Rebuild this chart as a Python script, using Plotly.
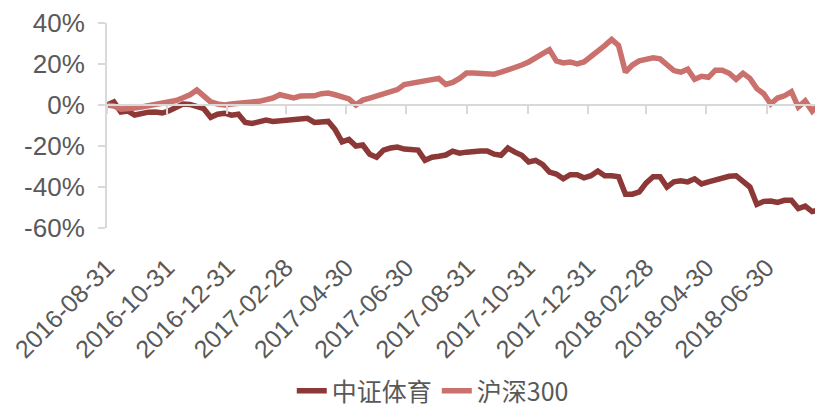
import pandas as pd
import plotly.graph_objects as go

# weekly sampled dates (every 7 days from 2016-08-31)
dates = pd.date_range(start="2016-08-31", periods=104, freq="7D")

# 中证体育 cumulative return (%)
sports = [
    0, 1.5, -3.4, -2.9, -4.9, -3.9, -3.5, -3.4, -3.9, -2.8,
    -1.5, 0.5, 0.3, -0.5, -1.8, -6, -4.5, -4, -5, -4.5,
    -8.5, -9, -8, -7.3, -8, -7.8, -7.3, -6.8, -7.2, -6.5,
    -8.5, -8, -8, -12, -18, -16.8, -20, -19.5, -24, -25.5,
    -22, -21, -20.5, -21.5, -21.5, -22, -27, -25.5, -25, -24.4,
    -22.5, -23.5, -23, -22.4, -22.4, -22.4, -24, -24.5, -21, -23,
    -24.5, -27.8, -27, -29, -32.7, -33.7, -36, -34, -34, -35.5,
    -34.5, -32.2, -34.5, -34.5, -35, -43.5, -43.5, -42.4, -38, -35,
    -35, -40, -37.5, -37, -37.5, -36, -38.5, -37.5, -36.5, -35.5,
    -34.8, -34.5, -37.6, -40, -48.5, -47, -46.8, -47.5, -46.5, -46.5,
    -50.5, -49.3, -52, -51.2,
]

# 沪深300 cumulative return (%)
hs300 = [
    0, -0.5, -2, -2, -1.5, -1, -0.3, 0.3, 0.8, 1.3,
    2.2, 3.5, 5, 7.3, 4, 1.5, 0.5, 0, 0.5, 1,
    1, 1.5, 1.8, 2.5, 3.4, 5, 4, 3.5, 4.4, 4.5,
    4.5, 5.5, 5.8, 5, 4, 3, 0, 2.4, 3.4, 4.5,
    6, 7, 7.5, 10, 10.5, 11, 11.5, 12.5, 13, 10,
    11, 13, 15.6, 15.6, 15.6, 15.3, 15, 16, 17, 18.3,
    19.5, 21, 23, 24.5, 27, 21.5, 20.5, 21, 20, 21,
    23.5, 26, 29, 32, 29, 16, 19.5, 21.5, 22, 23,
    22.5, 20, 16.8, 16, 17.5, 12.5, 14, 13.5, 17, 17,
    15.5, 12.5, 15.5, 13, 8, 5.5, 0.5, 3.4, 4.5, 6.5,
    -1, 2, -3, 0.5,
]

tick_dates = ["2016-08-31", "2016-10-31", "2016-12-31", "2017-02-28",
              "2017-04-30", "2017-06-30", "2017-08-31", "2017-10-31",
              "2017-12-31", "2018-02-28", "2018-04-30", "2018-06-30"]
y_ticks = [-60, -40, -20, 0, 20, 40]
y_text = [f"{v}%" for v in y_ticks]

DARK = "#8B3836"
PINK = "#CA716D"
GRID = "#D9D9D9"
TXT = "#595959"
FONT = "Liberation Sans, Arial, Noto Sans CJK SC, sans-serif"

fig = go.Figure()
fig.add_trace(go.Scatter(x=dates, y=sports, mode="lines", name="中证体育",
                         line=dict(color=DARK, width=5.5), xaxis="x", yaxis="y"))
fig.add_trace(go.Scatter(x=dates, y=hs300, mode="lines", name="沪深300",
                         line=dict(color=PINK, width=5.5), xaxis="x", yaxis="y"))
# invisible helper trace for the axis drawn at y = 0
fig.add_trace(go.Scatter(x=[dates[0]], y=[0], mode="markers", showlegend=False,
                         marker=dict(opacity=0), hoverinfo="skip",
                         xaxis="x2", yaxis="y"))

xrange = ["2016-08-31", "2018-08-26"]

# page body has an 8px margin, so the figure is 8px smaller each way
fig.update_layout(
    width=815, height=406,
    margin=dict(l=99, r=0, t=15, b=186, autoexpand=False),
    paper_bgcolor="white", plot_bgcolor="white",
    font=dict(family=FONT, color=TXT, size=26),
    showlegend=True,
    legend=dict(orientation="h", x=0.455, xanchor="center",
                yref="container", y=0.0, yanchor="bottom",
                font=dict(family="Noto Sans CJK SC, sans-serif", size=25, color=TXT),
                traceorder="normal"),
    xaxis=dict(type="date", range=xrange, tickvals=tick_dates, ticktext=tick_dates,
               tickangle=-45, showgrid=False, showline=False, zeroline=False,
               ticks="", ticklabelstandoff=19, automargin=False,
               ticklabeloverflow="allow",
               tickfont=dict(size=25, color=TXT)),
    xaxis2=dict(type="date", range=xrange, overlaying="x", anchor="free", position=0.6,
                tickvals=tick_dates, showticklabels=False, showgrid=False,
                showline=True, linecolor=GRID, linewidth=2, automargin=False,
                ticks="outside", ticklen=8, tickcolor=GRID, tickwidth=2),
    yaxis=dict(range=[-60, 40], tickvals=y_ticks, ticktext=y_text,
               showgrid=False, zeroline=False, showline=True, linecolor=GRID, linewidth=2,
               ticks="outside", ticklen=7, tickcolor=GRID, tickwidth=2, automargin=False,
               ticklabelstandoff=8, tickfont=dict(size=26, color=TXT)),
)

fig.write_html("out.html")
